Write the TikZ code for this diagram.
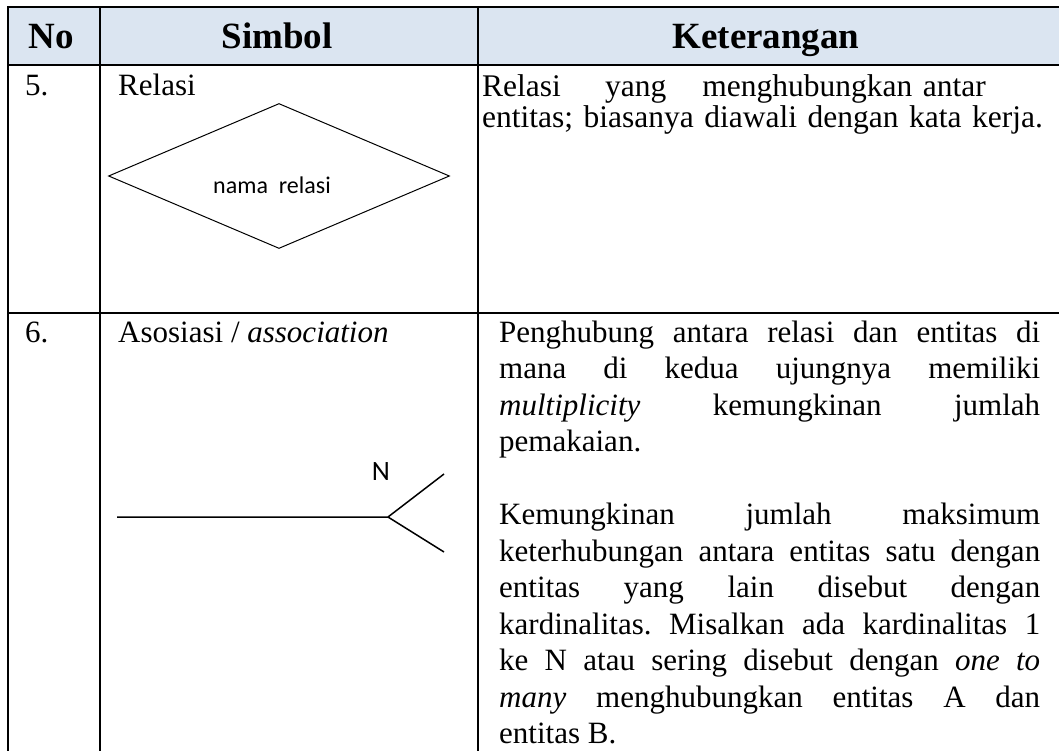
\documentclass[tikz,border=0pt]{standalone}
\usepackage{fontspec}
\setmainfont{Liberation Serif}
\newfontfamily\symfont{Carlito}
\usetikzlibrary{shapes.geometric}
\definecolor{headblue}{HTML}{DBE5F1}
\frenchspacing
\tikzset{
    tabline/.style={line width=2pt},
    headtext/.style={anchor=base, inner sep=0pt, font=\fontsize{37}{37}\selectfont\bfseries},
    celltext/.style={anchor=base west, inner sep=0pt, font=\fontsize{31}{31}\selectfont},
    desctext/.style={anchor=base west, inner sep=0pt, text width=541pt, align=justify,
        font=\fontsize{31}{36.5}\selectfont,
        execute at begin node={\tolerance=10000\hbadness=10000}},
    relshape/.style={draw, diamond, line width=1pt, aspect=2.35, inner sep=0pt,
        minimum width=341pt, minimum height=145pt},
    symtext/.style={inner sep=0pt, font=\symfont\fontsize{24}{24}\selectfont},
    assocline/.style={line width=1.5pt}
}
\begin{document}
\begin{tikzpicture}[x=1pt, y=-1pt]
                    \useasboundingbox (0, 0) rectangle (1059, 751);
                    \clip (0, 0) rectangle (1059, 751);

                    %%header
                    \fill[headblue] (8, 7.5) rectangle (1070, 65);
                    \node[headtext] (hno) at (51, 49){No};
                    \node[headtext] (hsimbol) at (277, 49){Simbol};
                    \node[headtext] (hket) at (766, 49){Keterangan};

                    %%grid
                    \draw[tabline] (8, 7.5) to (1070, 7.5);
                    \draw[tabline] (8, 65) to (1070, 65);
                    \draw[tabline] (8, 313) to (1070, 313);
                    \draw[tabline] (8, 6.5) to (8, 770);
                    \draw[tabline] (100, 6.5) to (100, 770);
                    \draw[tabline] (478, 6.5) to (478, 770);

                    %%row 5
                    \node[celltext] (nofive) at (25, 96){5.};
                    \node[celltext] (relasi) at (118, 96){Relasi};
                    \node[relshape] (reldiamond) at (279, 176){};
                    \node[symtext] (relname) at (272, 185){nama\ \ relasi};
                    \node[celltext, text width=570pt, align=left,
                        font=\fontsize{31.5}{30.5}\selectfont] (reldesc) at (482, 97)
                        {Relasi\hspace{1.4em}yang\hspace{1.15em}menghubungkan antar\\
                         entitas; biasanya diawali dengan kata kerja.};

                    %%row 6
                    \node[celltext] (nosix) at (25, 342){6.};
                    \node[celltext] (asosiasi) at (118, 342){Asosiasi / \textit{association}};
                    \coordinate (assocstart) at (117, 517);
                    \coordinate (fork) at (388, 517);
                    \coordinate (forkup) at (444, 474);
                    \coordinate (forkdown) at (444, 552);
                    \draw[assocline] (assocstart) to (fork) to (forkup);
                    \draw[assocline] (fork) to (forkdown);
                    \node[symtext, font=\symfont\fontsize{28}{28}\selectfont] (card) at (381, 472){N};
                    \node[desctext] (assocdesc) at (499, 342)
                        {Penghubung antara relasi dan entitas di\linebreak
                         mana di kedua ujungnya memiliki\linebreak
                         \textit{multiplicity} kemungkinan jumlah\linebreak
                         pemakaian.\par\vspace{36.5pt}
                         Kemungkinan jumlah maksimum\linebreak
                         keterhubungan antara entitas satu dengan\linebreak
                         entitas yang lain disebut dengan\linebreak
                         kardinalitas. Misalkan ada kardinalitas 1\linebreak
                         ke N atau sering disebut dengan \textit{one to}\linebreak
                         \textit{many} menghubungkan entitas A dan\linebreak
                         entitas B.};

\end{tikzpicture}
\end{document}
